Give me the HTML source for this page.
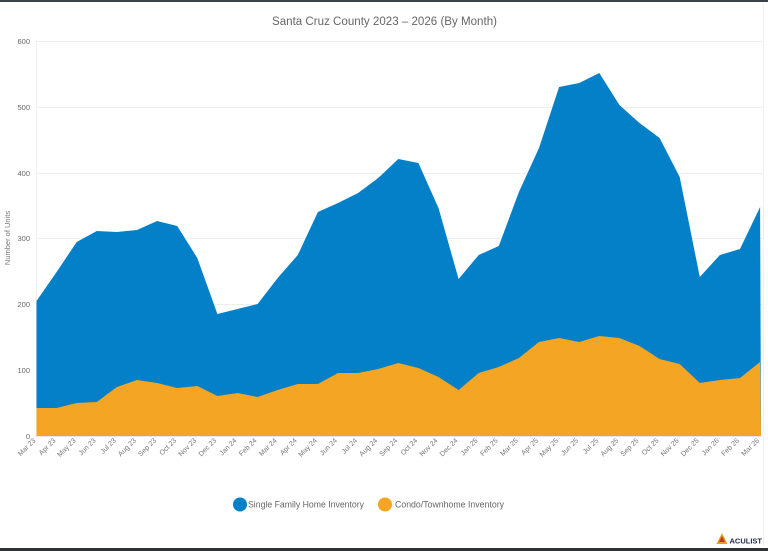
<!DOCTYPE html>
<html><head><meta charset="utf-8"><style>
html,body{margin:0;padding:0;background:#fff;}
body{width:768px;height:551px;overflow:hidden;position:relative;}
svg{position:absolute;left:0;top:0;}
text{font-family:"Liberation Sans",Arial,sans-serif;}
</style></head><body>
<svg width="768" height="551" viewBox="0 0 768 551" xmlns="http://www.w3.org/2000/svg">
<rect x="0" y="0" width="768" height="551" fill="#fff"/>
<rect x="0" y="0" width="768" height="2" fill="#3d4246"/>
<rect x="0" y="548" width="768" height="3" fill="#2f3336"/>
<line x1="763.5" y1="4" x2="763.5" y2="546" stroke="#f0f0f0" stroke-width="1"/>
<text x="384.5" y="25" font-size="11.5" fill="#666" text-anchor="middle" textLength="225" lengthAdjust="spacingAndGlyphs">Santa Cruz County 2023 – 2026 (By Month)</text>
<!-- grid -->
<g stroke="#eeeeee" stroke-width="1">
<line x1="36" y1="41.5" x2="762" y2="41.5"/>
<line x1="36" y1="107.5" x2="762" y2="107.5"/>
<line x1="36" y1="173.5" x2="762" y2="173.5"/>
<line x1="36" y1="238.5" x2="762" y2="238.5"/>
<line x1="36" y1="304.5" x2="762" y2="304.5"/>
<line x1="36" y1="370.5" x2="762" y2="370.5"/>
<line x1="36.5" y1="41" x2="36.5" y2="436"/>
</g>
<g font-size="7.5" fill="#666" text-anchor="end">
<text x="30" y="44">600</text>
<text x="30" y="110">500</text>
<text x="30" y="176">400</text>
<text x="30" y="241">300</text>
<text x="30" y="307">200</text>
<text x="30" y="373">100</text>
<text x="30" y="439">0</text>
</g>
<text transform="translate(10,238) rotate(-90)" font-size="7.5" fill="#777" text-anchor="middle">Number of Units</text>
<polygon fill="#0480c8" points="36.5,436 36.5,301 56.6,272 76.7,242 96.8,231 116.9,232 137,230 157.1,221 177.2,226 197.3,258 217.4,314 237.5,309 257.6,304 277.7,278 297.8,255 317.9,212 338,203 358.1,193 378.2,178 398.3,159 418.4,163 438.5,208 458.6,279 478.7,255 498.8,246 518.9,192 539,148 559.1,87 579.2,83 599.3,73 619.4,105 639.5,123 659.6,138 679.7,177 699.8,277 719.9,255 740,249 760.1,207 761,436"/>
<polygon fill="#f5a524" points="36.5,436 36.5,408 56.6,408 76.7,403 96.8,402 116.9,387 137,380 157.1,383 177.2,388 197.3,386 217.4,396 237.5,393 257.6,397 277.7,390 297.8,384 317.9,384 338,373 358.1,373 378.2,369 398.3,363 418.4,368 438.5,377 458.6,390 478.7,373 498.8,367 518.9,358 539,342 559.1,338 579.2,342 599.3,336 619.4,338 639.5,346 659.6,359 679.7,364 699.8,383 719.9,380 740,378 760.1,362 761,436"/>
<line x1="36" y1="436.5" x2="762" y2="436.5" stroke="#e6e6e6" stroke-width="1"/>
<g font-size="7" fill="#777" text-anchor="end">
<text transform="translate(36,441) rotate(-45)">Mar 23</text>
<text transform="translate(56.1,441) rotate(-45)">Apr 23</text>
<text transform="translate(76.2,441) rotate(-45)">May 23</text>
<text transform="translate(96.3,441) rotate(-45)">Jun 23</text>
<text transform="translate(116.4,441) rotate(-45)">Jul 23</text>
<text transform="translate(136.5,441) rotate(-45)">Aug 23</text>
<text transform="translate(156.6,441) rotate(-45)">Sep 23</text>
<text transform="translate(176.7,441) rotate(-45)">Oct 23</text>
<text transform="translate(196.8,441) rotate(-45)">Nov 23</text>
<text transform="translate(216.9,441) rotate(-45)">Dec 23</text>
<text transform="translate(237,441) rotate(-45)">Jan 24</text>
<text transform="translate(257.1,441) rotate(-45)">Feb 24</text>
<text transform="translate(277.2,441) rotate(-45)">Mar 24</text>
<text transform="translate(297.3,441) rotate(-45)">Apr 24</text>
<text transform="translate(317.4,441) rotate(-45)">May 24</text>
<text transform="translate(337.5,441) rotate(-45)">Jun 24</text>
<text transform="translate(357.6,441) rotate(-45)">Jul 24</text>
<text transform="translate(377.7,441) rotate(-45)">Aug 24</text>
<text transform="translate(397.8,441) rotate(-45)">Sep 24</text>
<text transform="translate(417.9,441) rotate(-45)">Oct 24</text>
<text transform="translate(438,441) rotate(-45)">Nov 24</text>
<text transform="translate(458.1,441) rotate(-45)">Dec 24</text>
<text transform="translate(478.2,441) rotate(-45)">Jan 25</text>
<text transform="translate(498.3,441) rotate(-45)">Feb 25</text>
<text transform="translate(518.4,441) rotate(-45)">Mar 25</text>
<text transform="translate(538.5,441) rotate(-45)">Apr 25</text>
<text transform="translate(558.6,441) rotate(-45)">May 25</text>
<text transform="translate(578.7,441) rotate(-45)">Jun 25</text>
<text transform="translate(598.8,441) rotate(-45)">Jul 25</text>
<text transform="translate(618.9,441) rotate(-45)">Aug 25</text>
<text transform="translate(639,441) rotate(-45)">Sep 25</text>
<text transform="translate(659.1,441) rotate(-45)">Oct 25</text>
<text transform="translate(679.2,441) rotate(-45)">Nov 25</text>
<text transform="translate(699.3,441) rotate(-45)">Dec 25</text>
<text transform="translate(719.4,441) rotate(-45)">Jan 26</text>
<text transform="translate(739.5,441) rotate(-45)">Feb 26</text>
<text transform="translate(759.6,441) rotate(-45)">Mar 26</text>
</g>
<!-- legend -->
<circle cx="240" cy="504.5" r="7" fill="#0480c8"/>
<text x="248" y="507.5" font-size="9" fill="#666" textLength="116" lengthAdjust="spacingAndGlyphs">Single Family Home Inventory</text>
<circle cx="385" cy="504.5" r="7" fill="#f5a524"/>
<text x="395" y="507.5" font-size="9" fill="#666" textLength="109" lengthAdjust="spacingAndGlyphs">Condo/Townhome Inventory</text>
<!-- logo -->
<polygon points="722,533 716.5,544 727.5,544" fill="#e3a21a"/>
<polygon points="722,536 719,542 725,542" fill="#c0392b"/>
<text x="729.5" y="543.5" font-size="7.5" font-weight="bold" fill="#1f2a4a">ACULIST</text>
</svg>
</body></html>
